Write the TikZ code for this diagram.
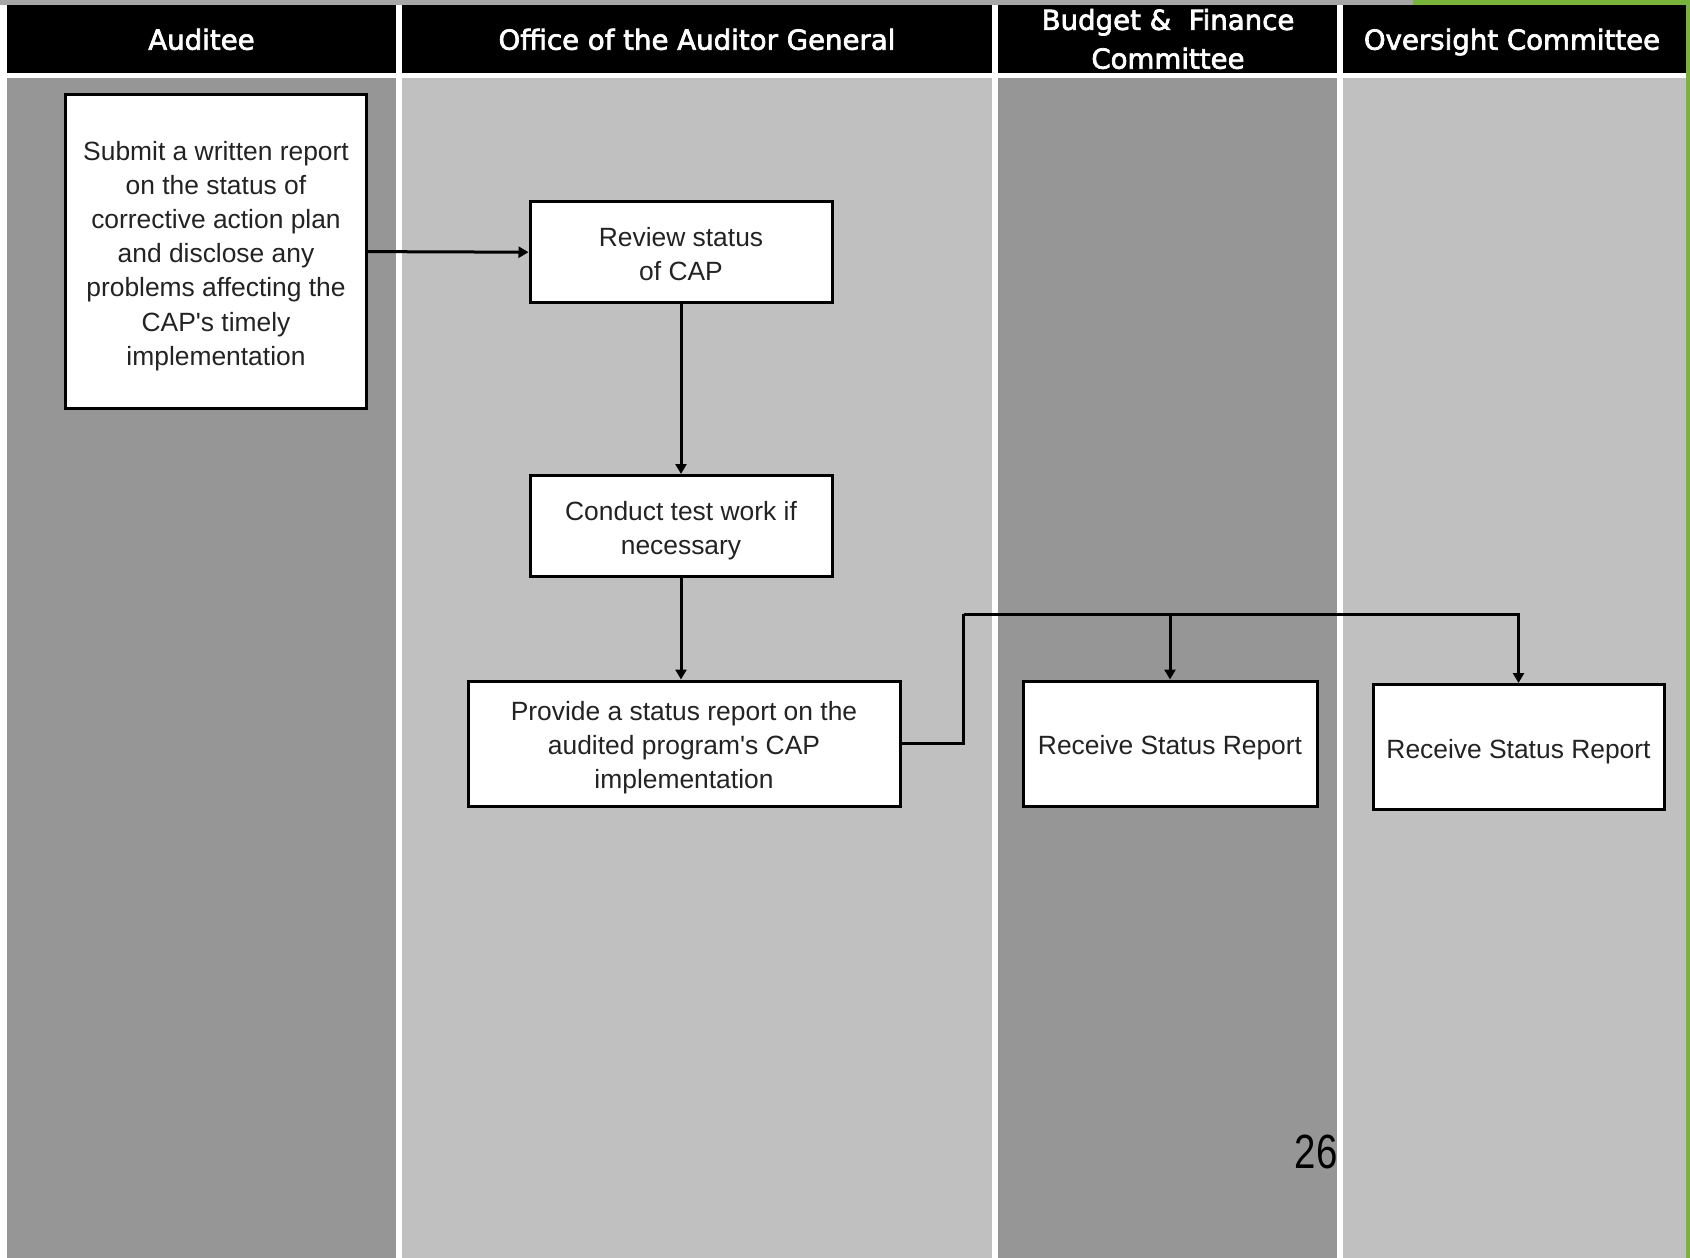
\documentclass[tikz,border=0pt]{standalone}
\usepackage{fontspec}
\setmainfont{Liberation Sans}[Ligatures=TeXOff]
\newfontfamily\hdrfont{DejaVu Sans}[FakeBold=2.5]
\usetikzlibrary{arrows.meta}
\definecolor{darklane}{RGB}{150,150,150}
\definecolor{lightlane}{RGB}{192,192,192}
\definecolor{txtgray}{RGB}{35,35,35}
\definecolor{edgegreen}{RGB}{120,180,60}
\newcommand{\dn}[1]{\raisebox{-4.3pt}[\height][\depth]{\begin{tabular}{@{}c@{}}#1\end{tabular}}}
\tikzset{
  hdrtext/.style={text=white, font=\hdrfont\fontsize{27.6}{38.8}\selectfont, align=center, inner sep=0pt},
  stepbox/.style={draw=black, line width=3pt, fill=white, inner sep=0pt, align=center,
    text=txtgray, font=\fontsize{26.4}{34.2}\selectfont},
  conn/.style={draw=black, line width=3pt, -{Triangle[length=10pt,width=11pt]}},
  plainconn/.style={draw=black, line width=3pt}
}
\begin{document}
\begin{tikzpicture}[x=1pt,y=-1pt]
\useasboundingbox (0,0) rectangle (1690,1258);
\fill[white] (0,0) rectangle (1690,1258);
% top edge and green accents
\fill[gray!70] (0,0) rectangle (1420,5);
\fill[edgegreen] (1413,0) rectangle (1690,5);
\fill[edgegreen] (1686,0) rectangle (1690,1258);
% lane headers
\fill[black] (7,5) rectangle (396,73);
\fill[black] (402,5) rectangle (992,73);
\fill[black] (998,5) rectangle (1337,73);
\fill[black] (1343,5) rectangle (1686,73);
% lane bodies
\fill[darklane] (7,78) rectangle (396,1258);
\fill[lightlane] (402,78) rectangle (992,1258);
\fill[darklane] (998,78) rectangle (1337,1258);
\fill[lightlane] (1343,78) rectangle (1686,1258);
% header texts
\node[hdrtext, anchor=base] (h1) at (201.5,49.7) {Auditee};
\node[hdrtext, anchor=base] (h2) at (697,49.7) {Office of the Auditor General};
\node[hdrtext] (h3) at (1168,39) {Budget \&\ \ Finance\\Committee};
\node[hdrtext, anchor=base] (h4) at (1512,49.7) {Oversight Committee};
% steps
\node[stepbox, minimum width=301pt, minimum height=314pt] (submit) at (216,251.6)
  {\dn{Submit a written report\\on the status of\\corrective action plan\\and disclose any\\problems affecting the\\CAP's timely\\implementation}};
\node[stepbox, minimum width=302pt, minimum height=101pt] (review) at (681,252.2)
  {\dn{Review status\\of CAP}};
\node[stepbox, minimum width=302pt, minimum height=101pt] (conduct) at (681,526)
  {\dn{Conduct test work if\\necessary}};
\node[stepbox, minimum width=432pt, minimum height=125pt] (provide) at (684,743.5)
  {\dn{Provide a status report on the\\audited program's CAP\\implementation}};
\node[stepbox, minimum width=294pt, minimum height=125pt] (recv1) at (1170,743.5)
  {\dn{Receive Status Report}};
\node[stepbox, minimum width=291pt, minimum height=125pt] (recv2) at (1518.5,747)
  {\dn{Receive Status Report}};
% connectors
\coordinate (j1) at (963.5,614.3);
\draw[conn] (submit.east) -- (review.west);
\draw[conn] (review.south) -- (conduct.north);
\draw[conn] (conduct.south) -- (conduct.south |- provide.north);
\draw[plainconn] (provide.east) -| (j1);
\draw[conn] (j1) -| (recv2.north);
\draw[conn] (recv1.north |- j1) -- (recv1.north);
% page number
\node[inner sep=0pt, font=\fontsize{48}{48}\selectfont] (pnum) at (1316,1152) {\scalebox{0.8}[1]{26}};
\end{tikzpicture}
\end{document}
